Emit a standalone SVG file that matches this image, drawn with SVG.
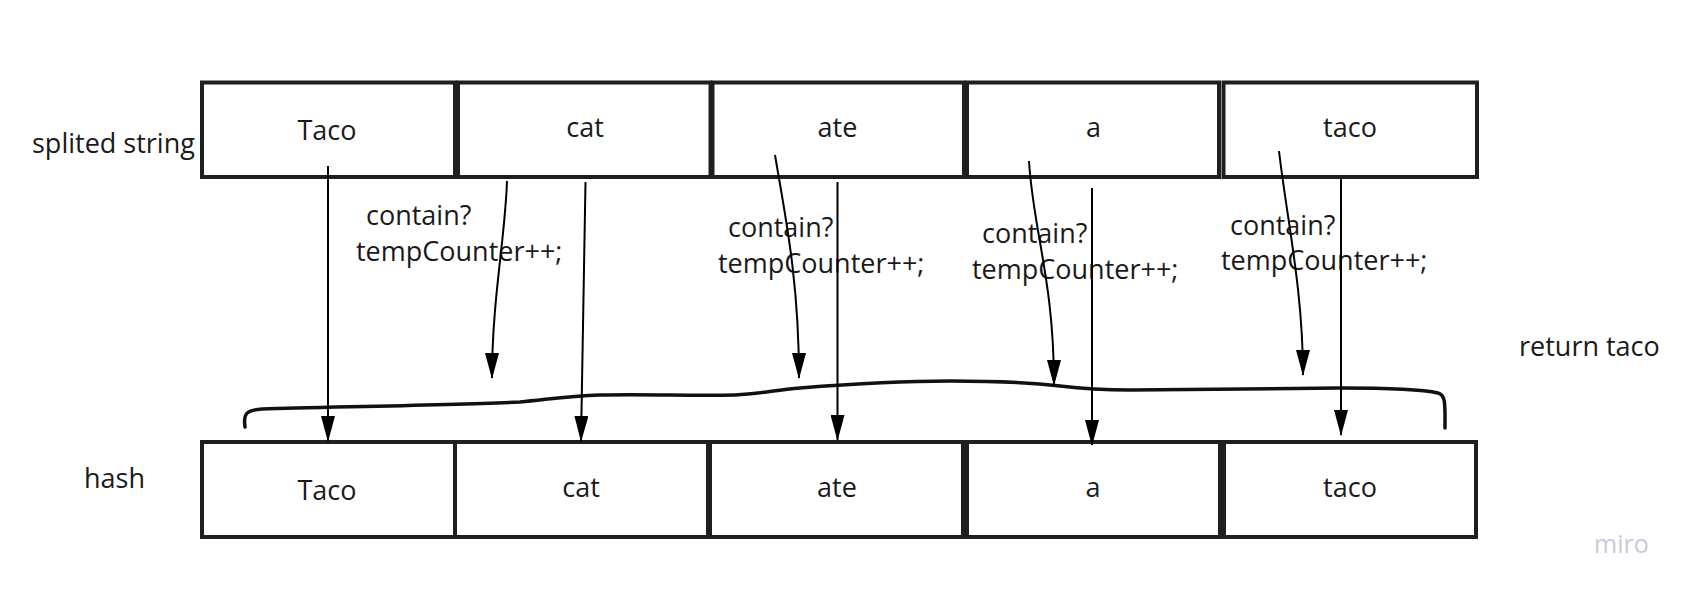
<svg xmlns="http://www.w3.org/2000/svg" width="1688" height="592" viewBox="0 0 1688 592">
<style>
.box{fill:#fff;stroke:#1f1f1f;stroke-width:4}
.t{font-family:"Open Sans","Liberation Sans",sans-serif;font-size:27px;fill:#1a1a1a}
.c{text-anchor:middle}
.ln{fill:none;stroke:#000;stroke-width:2;marker-end:url(#ah)}
.brace{fill:none;stroke:#111;stroke-width:3.5;stroke-linecap:round}
</style>
<defs>
<marker id="ah" markerUnits="userSpaceOnUse" markerWidth="26" markerHeight="14" viewBox="0 0 26 14" refX="25" refY="7" orient="auto">
<path d="M0,0 L26,7 L0,14 z" fill="#000"/>
</marker>
</defs>
<rect width="1688" height="592" fill="#fff"/>

<text class="t" x="32" y="152.5" font-size="27.4">splited string</text>
<text class="t" x="84" y="488" font-size="27.5">hash</text>
<text class="t" x="1519" y="356" font-size="28.3">return taco</text>

<g id="top-Taco"><rect class="box" x="202" y="82.5" width="253" height="94.5"/><text class="t c" x="327" y="140">Taco</text></g>
<g id="top-cat"><rect class="box" x="458" y="82.5" width="252.5" height="94.5"/><text class="t c" x="585" y="137">cat</text></g>
<g id="top-ate"><rect class="box" x="712.5" y="82.5" width="251.5" height="94.5"/><text class="t c" x="837.5" y="137">ate</text></g>
<g id="top-a"><rect class="box" x="967" y="82.5" width="252" height="94.5"/><text class="t c" x="1093.5" y="137">a</text></g>
<g id="top-taco"><rect class="box" x="1223.5" y="82.5" width="253.5" height="94.5"/><text class="t c" x="1350" y="137">taco</text></g>

<g id="hash-Taco"><rect class="box" x="202" y="442" width="253" height="95"/><text class="t c" x="327" y="500">Taco</text></g>
<g id="hash-cat"><rect class="box" x="455" y="442" width="253" height="95"/><text class="t c" x="581" y="497">cat</text></g>
<g id="hash-ate"><rect class="box" x="710" y="442" width="253" height="95"/><text class="t c" x="837" y="497">ate</text></g>
<g id="hash-a"><rect class="box" x="967" y="442" width="253" height="95"/><text class="t c" x="1093" y="497">a</text></g>
<g id="hash-taco"><rect class="box" x="1224" y="442" width="252" height="95"/><text class="t c" x="1350" y="497">taco</text></g>

<g id="labels">
<text class="t" x="366" y="225" font-size="27.5">contain?</text>
<text class="t" x="356" y="261">tempCounter++;</text>
<text class="t" x="728" y="237" font-size="27.5">contain?</text>
<text class="t" x="718" y="273">tempCounter++;</text>
<text class="t" x="982" y="243" font-size="27.5">contain?</text>
<text class="t" x="972" y="279">tempCounter++;</text>
<text class="t" x="1230" y="234.5" font-size="27.5">contain?</text>
<text class="t" x="1221" y="270">tempCounter++;</text>
</g>

<g id="brace">
<path class="brace" d="M245,427 C243,413 247,410 262,409 C330,407 450,405 520,402 C545,400 565,396 600,395 C650,394 690,396 735,395 C760,394 775,390 800,388 C850,384 900,381 950,381 C1000,381 1035,383 1060,386 C1085,389 1100,390 1130,390 L1340,388 C1400,388 1425,390 1438,393 C1446,395 1445,405 1445,428"/>
</g>

<g id="connectors">
<path class="ln" d="M328,166 L328,441"/>
<path class="ln" d="M585.5,182 L581,441"/>
<path class="ln" d="M837.5,182 L837.5,440"/>
<path class="ln" d="M1092,188 L1092,445"/>
<path class="ln" d="M1341,178 L1341,435"/>
<path class="ln" d="M507,181 C505,240 492,300 492,378"/>
<path class="ln" d="M775,155 C785,215 799,280 799,378"/>
<path class="ln" d="M1029,161 C1033,230 1054,280 1054,385"/>
<path class="ln" d="M1279,151 C1287,220 1303,290 1303,375"/>
</g>

<text x="1594" y="553" font-family="Open Sans, Liberation Sans, sans-serif" font-size="25" fill="#c8cad9">miro</text>
</svg>
